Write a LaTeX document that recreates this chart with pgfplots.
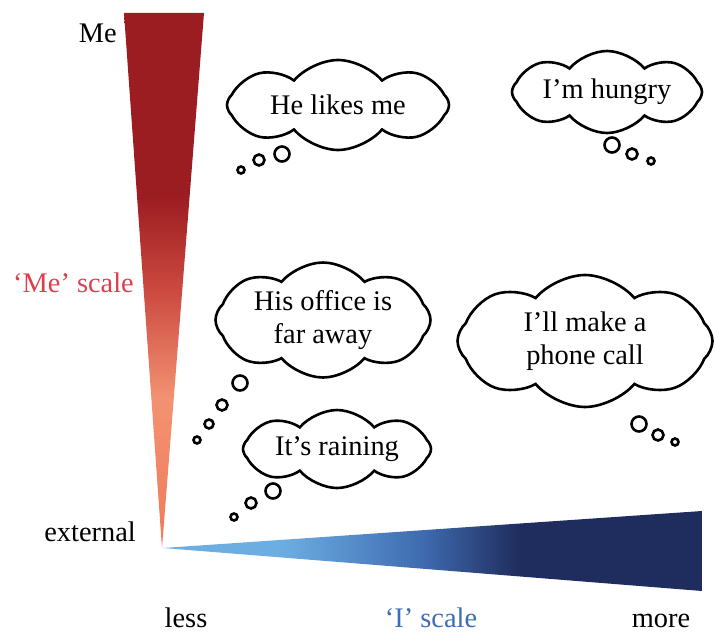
\documentclass[border=0pt]{standalone}
\usepackage{fontspec}
\setmainfont{Liberation Serif}
\usepackage{pgfplots}
\pgfplotsset{compat=1.18}
\usetikzlibrary{shapes.symbols}
\definecolor{medark}{HTML}{9B1C21}
\definecolor{memid}{HTML}{CC4A40}
\definecolor{melight}{HTML}{F29272}
\definecolor{mebase}{HTML}{F07A58}
\definecolor{ilight}{HTML}{6CAEE2}
\definecolor{imid}{HTML}{3F6BB0}
\definecolor{idark}{HTML}{1F2D5E}
\definecolor{mescale}{HTML}{E23D4D}
\definecolor{iscale}{HTML}{3D6DB5}
\pgfdeclareverticalshading{meshade}{100bp}{color(0bp)=(mebase); color(25bp)=(mebase); color(39bp)=(melight); color(49bp)=(memid); color(58bp)=(medark); color(75bp)=(medark); color(100bp)=(medark)}
\pgfdeclarehorizontalshading{ishade}{100bp}{color(0bp)=(ilight); color(25bp)=(ilight); color(36bp)=(ilight); color(49bp)=(imid); color(58bp)=(idark); color(75bp)=(idark); color(100bp)=(idark)}
\tikzset{thought/.style={cloud, draw=black, line width=2.6bp, fill=white, cloud puffs=8, cloud puff arc=100, cloud ignores aspect, inner sep=0pt, align=center, font=\fontsize{28.5}{33}\selectfont},
lab/.style={font=\fontsize{28.5}{33}\selectfont, inner sep=0pt}}
\begin{document}
\begin{tikzpicture}
\begin{axis}[width=715bp, height=632bp, scale only axis, hide axis, clip=false,
  xmin=0, xmax=715, ymin=0, ymax=632, y dir=reverse]
\addplot[draw=none] coordinates {(0,0) (715,632)};
% 'Me' scale wedge
\addplot[draw=none, shading=meshade] coordinates {(124,13) (204,13) (162,548)} -- cycle;
% 'I' scale wedge
\addplot[draw=none, shading=ishade] coordinates {(163,548) (702,511) (702,591)} -- cycle;
% thought bubbles (small circles)
\addplot[only marks, mark=o, mark size=7.5bp, line width=2.6bp] coordinates {(282,154) (612,145) (240,383) (273,491) (639,424)};
\addplot[only marks, mark=o, mark size=5.5bp, line width=2.6bp] coordinates {(259,160) (632,154) (222,405) (251,503) (658,435)};
\addplot[only marks, mark=o, mark size=4.5bp, line width=2.6bp] coordinates {(209,424)};
\addplot[only marks, mark=o, mark size=3.5bp, line width=2.6bp] coordinates {(241,170) (651,161) (197,440) (234,517) (675,442)};
% clouds
\node[thought, minimum width=222bp, minimum height=90bp] at (axis cs:338,105) {He likes me};
\node[thought, minimum width=190bp, minimum height=82bp] at (axis cs:607,92) {I’m hungry};
\node[thought, minimum width=215bp, minimum height=115bp] at (axis cs:323,320) {His office is\\far away};
\node[thought, minimum width=188bp, minimum height=78bp] at (axis cs:337,449) {It’s raining};
\node[thought, minimum width=255bp, minimum height=132bp] at (axis cs:585,341) {I’ll make a\\phone call};
% labels
\node[lab, anchor=east] at (axis cs:117,33) {Me};
\node[lab, anchor=east, text=mescale] at (axis cs:134,283) {‘Me’ scale};
\node[lab, anchor=east] at (axis cs:136,532) {external};
\node[lab, anchor=base] at (axis cs:186,627) {less};
\node[lab, anchor=base, text=iscale] at (axis cs:431,627) {‘I’ scale};
\node[lab, anchor=base] at (axis cs:661,627) {more};
\end{axis}
\end{tikzpicture}
\end{document}
